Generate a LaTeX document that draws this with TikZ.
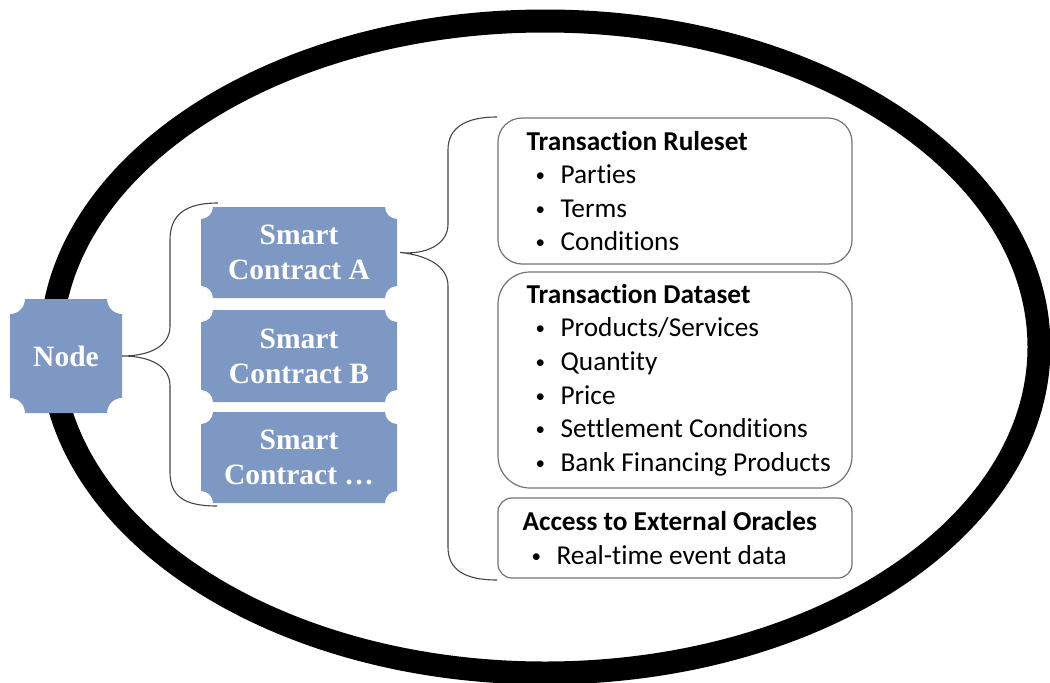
\documentclass[tikz,border=0pt]{standalone}
\usepackage{fontspec}
\setmainfont{Liberation Serif}
\newfontfamily\calib[Ligatures=NoCommon]{Carlito}
\definecolor{scblue}{RGB}{126,152,196}
\definecolor{boxgray}{RGB}{115,115,115}
\definecolor{bracegray}{RGB}{70,70,70}
\newcommand\plaque[5]{%
 \pgfmathsetmacro\pxa{#1-#3/2}\pgfmathsetmacro\pxb{#1+#3/2}%
 \pgfmathsetmacro\pya{#2-#4/2}\pgfmathsetmacro\pyb{#2+#4/2}%
 \pgfmathsetmacro\pr{#5}\pgfmathsetmacro\pk{0.552*#5}%
 \fill[scblue] ({\pxa+\pr},\pya) -- ({\pxb-\pr},\pya)
  .. controls ({\pxb-\pr},{\pya+\pk}) and ({\pxb-\pk},{\pya+\pr}) .. (\pxb,{\pya+\pr})
  -- (\pxb,{\pyb-\pr})
  .. controls ({\pxb-\pk},{\pyb-\pr}) and ({\pxb-\pr},{\pyb-\pk}) .. ({\pxb-\pr},\pyb)
  -- ({\pxa+\pr},\pyb)
  .. controls ({\pxa+\pr},{\pyb-\pk}) and ({\pxa+\pk},{\pyb-\pr}) .. (\pxa,{\pyb-\pr})
  -- (\pxa,{\pya+\pr})
  .. controls ({\pxa+\pk},{\pya+\pr}) and ({\pxa+\pr},{\pya+\pk}) .. cycle;}
\newcommand\bitem{\makebox[34pt][l]{\hspace{9pt}\raisebox{2pt}{\fontsize{19pt}{19pt}\selectfont•}}}
\tikzset{
 sctext/.style={text=white, font=\fontsize{29.5pt}{35pt}\selectfont\bfseries, align=center, inner sep=0pt},
 tbox/.style={draw=boxgray, line width=1.2pt, fill=white, minimum width=354pt, inner sep=0pt},
 tlist/.style={font=\calib\fontsize{27.3pt}{33.6pt}\selectfont, align=left, inner sep=0pt, text=black, anchor=west},
 bracepath/.style={draw=bracegray, line width=1.1pt},
 ring/.style={draw=black, line width=23pt}
}
\begin{document}
\begin{tikzpicture}[x=1pt,y=-1pt]
\useasboundingbox (0,0) rectangle (1050,683);
\clip (0,0) rectangle (1050,683);
\fill[white] (0,0) rectangle (1050,683);
% outer ellipse
\draw[ring] (545,347) ellipse [x radius=494pt, y radius=326pt];
% plaques
\plaque{66}{356}{112}{114}{15}
\plaque{299}{252.5}{196}{91}{12}
\plaque{299}{356}{196}{92}{12}
\plaque{299}{457.5}{196}{91}{12}
\node[sctext, minimum width=112pt, minimum height=114pt] (nd) at (66,356) {Node};
\node[sctext, minimum width=196pt, minimum height=91pt] (sca) at (299,252.5) {Smart\\Contract A};
\node[sctext, minimum width=196pt, minimum height=92pt] (scb) at (299,356) {Smart\\Contract B};
\node[sctext, minimum width=196pt, minimum height=91pt] (scc) at (299,457.5) {Smart\\Contract …};
% text boxes
\node[tbox, minimum height=146pt, rounded corners=24pt] (rules) at (675,191) {};
\node[tlist] (rulestext) at ([xshift=29pt]rules.west)
 {\textbf{Transaction Ruleset}\\\bitem Parties\\\bitem Terms\\\bitem Conditions};
\node[tbox, minimum height=216pt, rounded corners=32pt] (data) at (675,380) {};
\node[tlist] (datatext) at ([xshift=29pt]data.west)
 {\textbf{Transaction Dataset}\\\bitem Products/Services\\\bitem Quantity\\\bitem Price\\\bitem Settlement Conditions\\\bitem Bank Financing Products};
\node[tbox, minimum height=80pt, rounded corners=14pt] (orac) at (675,538) {};
\node[tlist] (oractext) at ([xshift=25pt]orac.west)
 {\textbf{Access to External Oracles}\\\bitem Real-time event data};
% braces
\coordinate (lbtop) at (218,203);
\coordinate (lbbot) at (217,506);
\coordinate (rbtop) at (497,117);
\coordinate (rbbot) at (497,580);
\draw[bracepath] (lbtop) .. controls (185,203) and (170,215) .. (170,240) -- (170,326)
  .. controls (170,346) and (150,356) .. (nd.east)
  .. controls (150,356) and (170,366) .. (170,386) -- (170,472)
  .. controls (170,497) and (185,506) .. (lbbot);
\draw[bracepath] (rbtop) .. controls (465,117) and (448,128) .. (448,150) -- (448,224)
  .. controls (448,245) and (425,255) .. ([xshift=3pt]sca.east)
  .. controls (425,255) and (448,265) .. (448,286) -- (448,547)
  .. controls (448,570) and (465,580) .. (rbbot);
\end{tikzpicture}
\end{document}
